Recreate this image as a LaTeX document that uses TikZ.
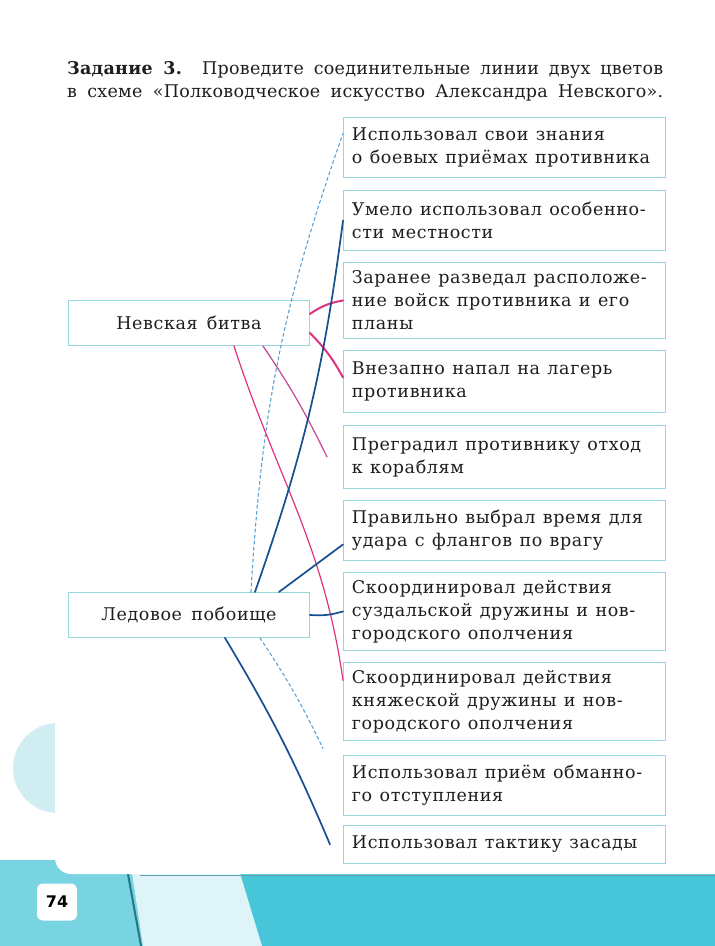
\documentclass[tikz,border=0pt]{standalone}
\usepackage{fontspec}
\setmainfont{DejaVu Serif}[LetterSpace=3.5, WordSpace=1.5]
\newfontfamily\headfont{DejaVu Serif}[LetterSpace=1.5]
\newfontfamily\numfont{DejaVu Sans}
\usetikzlibrary{positioning}
\DeclareRobustCommand\widespace{\spaceskip=0.42em plus 0.1em\relax}

\definecolor{pagecyan}{RGB}{70,198,216}
\definecolor{leftcyan}{RGB}{120,212,224}
\definecolor{palecyan}{RGB}{222,244,247}
\definecolor{darkteal}{RGB}{40,118,138}
\definecolor{halfmoon}{RGB}{208,238,241}
\definecolor{boxline}{RGB}{150,214,222}
\definecolor{inkpink}{RGB}{222,50,130}
\definecolor{inkviolet}{RGB}{196,70,150}
\definecolor{inkblue}{RGB}{22,80,145}
\definecolor{inklight}{RGB}{90,160,210}
\definecolor{printink}{RGB}{30,30,30}

\tikzset{
    answer/.style={draw=boxline, line width=0.9pt, fill=white, anchor=north west,
        minimum width=322pt, text width=305pt, inner xsep=8pt, align=left,
        font=\fontsize{17.5}{23}\selectfont, execute at begin node=\widespace, text=printink},
    battle/.style={draw=boxline, line width=0.9pt, fill=white, anchor=north west,
        minimum width=241pt, minimum height=45pt, font=\fontsize{17.5}{20}\selectfont, text=printink},
    pinkline/.style={inkpink, line width=2pt, line cap=round},
    violetline/.style={inkviolet, line width=1.2pt, line cap=round},
    blueline/.style={inkblue, line width=1.7pt, line cap=round},
    lightline/.style={inklight, line width=1.1pt, dashed, line cap=round},
}

\begin{document}
\begin{tikzpicture}[x=1pt, y=-1pt]
    \useasboundingbox (0,0) rectangle (715,946);

    % Page background
    \fill[pagecyan] (0,860) rectangle (715,946);
    \fill[leftcyan] (0,860) -- (130,860) -- (143,946) -- (0,946) -- cycle;
    \fill[palecyan] (130,860) -- (236,860) -- (262,946) -- (143,946) -- cycle;
    \draw[darkteal, line width=2pt] (128,874) -- (141,946);
    \fill[halfmoon] (58,768) circle (45);
    \fill[white, rounded corners=16pt] (55,-30) rectangle (740,874);
    \draw[darkteal!70, line width=1.2pt] (140,875.5) -- (715,875.5);

    % Page number
    \node[fill=white, rounded corners=6pt, minimum width=40pt, minimum height=37pt,
        font=\numfont\bfseries\fontsize{16}{16}\selectfont] (pnum) at (57,902) {74};

    % Task heading
    \node[anchor=base west, inner sep=0pt, font=\headfont\fontsize{17.5}{20}\selectfont, text=printink] (task1) at (67,74)
        {\makebox[596pt][s]{\textbf{Задание 3.} Проведите соединительные линии двух цветов}};
    \node[anchor=base west, inner sep=0pt, font=\headfont\fontsize{17.5}{20}\selectfont, text=printink] (task2) at (67,97)
        {\makebox[596pt][s]{в схеме «Полководческое искусство Александра Невского».}};

    % Battles
    \node[battle] (neva) at (68,300) {Невская битва};
    \node[battle] (ice) at (68,592) {Ледовое побоище};

    % Answers
    \node[answer, minimum height=60pt] (b1) at (343,117) {Использовал свои знания\\о боевых приёмах противника};
    \node[answer, minimum height=60pt] (b2) at (343,190) {Умело использовал особенно-\\сти местности};
    \node[answer, minimum height=76pt] (b3) at (343,262) {Заранее разведал расположе-\\ние войск противника и его\\планы};
    \node[answer, minimum height=62pt] (b4) at (343,350) {Внезапно напал на лагерь\\противника};
    \node[answer, minimum height=63pt] (b5) at (343,425) {Преградил противнику отход\\к кораблям};
    \node[answer, minimum height=60pt] (b6) at (343,500) {Правильно выбрал время для\\удара с флангов по врагу};
    \node[answer, minimum height=78pt] (b7) at (343,572) {Скоординировал действия\\суздальской дружины и нов-\\городского ополчения};
    \node[answer, minimum height=78pt] (b8) at (343,662) {Скоординировал действия\\княжеской дружины и нов-\\городского ополчения};
    \node[answer, minimum height=60pt] (b9) at (343,755) {Использовал приём обманно-\\го отступления};
    \node[answer, minimum height=38pt] (b10) at (343,825) {Использовал тактику засады};

    % Neva lines (pink)
    \draw[pinkline] ([yshift=9pt]neva.east) to[bend left=12] (b3.west);
    \draw[pinkline] ([yshift=-10pt]neva.east) to[bend left=8] ([yshift=4pt]b4.west);
    \draw[violetline] ([xshift=74pt]neva.south) to[bend left=4] ([xshift=-16pt]b5.west);
    \draw[violetline, inkpink] ([xshift=45pt]neva.south) to[out=-72, in=98] ([yshift=21pt]b8.west);

    % Ice battle lines (blue)
    \draw[lightline] ([xshift=62pt]ice.north) to[bend left=8] ([yshift=14pt]b1.west);
    \draw[blueline] ([xshift=66pt]ice.north) to[bend right=6] (b2.west);
    \draw[blueline] ([xshift=90pt]ice.north) -- ([yshift=-14pt]b6.west);
    \draw[blueline] (ice.east) to[bend right=10] (b7.west);
    \draw[blueline] ([xshift=36pt]ice.south) to[bend left=4] ([xshift=-13pt]b10.west);
    \draw[lightline] ([xshift=71pt]ice.south) to[bend left=4] ([shift={(-20pt,37pt)}]b9.west);
\end{tikzpicture}
\end{document}
